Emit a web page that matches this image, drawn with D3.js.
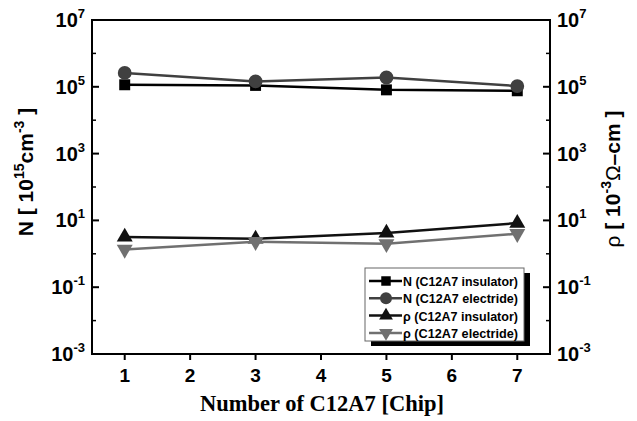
<!DOCTYPE html>
<html lang="en">
<head>
<meta charset="UTF-8">
<script src="https://d3js.org/d3.v7.min.js"></script>
<title>C12A7 chart</title>
<style>
  body { margin: 0; background: white; }
  text { font-family: "Liberation Sans", Arial, sans-serif; font-weight: bold; }
</style>
</head>
<body>
<div class="fig"></div>
<script>
    // data
    const chips = [1, 3, 5, 7];
    const nInsulator = [1.15e5, 1.1e5, 0.81e5, 0.76e5];
    const nElectride = [2.6e5, 1.45e5, 1.9e5, 1.05e5];
    const rhoInsulator = [3.2, 2.8, 4.2, 8.3];
    const rhoElectride = [1.35, 2.3, 2.0, 4.0];
    const xTicks = [1, 2, 3, 4, 5, 6, 7];
    const yExp = [-3, -1, 1, 3, 5, 7];
    const yMinor = [-2, 0, 2, 4, 6];

    const series = [
        { name: "N (C12A7 insulator)", values: nInsulator, color: "#000", symbol: d3.symbolSquare, size: 120, rot: 0 },
        { name: "N (C12A7 electride)", values: nElectride, color: "#404040", symbol: d3.symbolCircle, size: 150, rot: 0 },
        { name: "ρ (C12A7 insulator)", values: rhoInsulator, color: "#111", symbol: d3.symbolTriangle, size: 110, rot: 0 },
        { name: "ρ (C12A7 electride)", values: rhoElectride, color: "#707070", symbol: d3.symbolTriangle, size: 110, rot: 180 }
    ];

    const width = 637, height = 421;
    const m = { left: 92, right: 550, top: 20, bottom: 354 };

    const svg = d3.select(".fig").append("svg")
        .attr("width", width)
        .attr("height", height);

    const x = d3.scaleLinear().domain([0.5, 7.5]).range([m.left, m.right]);
    const y = d3.scaleLog().domain([1e-3, 1e7]).range([m.bottom, m.top]);

    // frame
    svg.append("rect")
        .attr("x", m.left).attr("y", m.top)
        .attr("width", m.right - m.left).attr("height", m.bottom - m.top)
        .attr("fill", "none").attr("stroke", "#000").attr("stroke-width", 2);

    // x ticks
    xTicks.forEach(t => {
        svg.append("line")
            .attr("x1", x(t)).attr("x2", x(t))
            .attr("y1", m.bottom).attr("y2", m.bottom + 6)
            .attr("stroke", "#000").attr("stroke-width", 2);
        svg.append("text")
            .attr("x", x(t)).attr("y", 382)
            .attr("text-anchor", "middle")
            .attr("font-size", 19)
            .text(t);
    });

    // y ticks both sides
    yExp.forEach(e => {
        const yy = y(Math.pow(10, e));
        [[m.left, m.left + 7], [m.right - 7, m.right]].forEach(p => {
            svg.append("line")
                .attr("x1", p[0]).attr("x2", p[1])
                .attr("y1", yy).attr("y2", yy)
                .attr("stroke", "#000").attr("stroke-width", 2);
        });
        const left = svg.append("text")
            .attr("x", 85).attr("y", yy + 7)
            .attr("text-anchor", "end")
            .attr("font-size", 20);
        left.append("tspan").text("10");
        left.append("tspan").attr("dy", -9).attr("font-size", 13).text(e);
        const right = svg.append("text")
            .attr("x", 557).attr("y", yy + 7)
            .attr("font-size", 20);
        right.append("tspan").text("10");
        right.append("tspan").attr("dy", -9).attr("font-size", 13).text(e);
    });
    yMinor.forEach(e => {
        const yy = y(Math.pow(10, e));
        [[m.left, m.left + 4], [m.right - 4, m.right]].forEach(p => {
            svg.append("line")
                .attr("x1", p[0]).attr("x2", p[1])
                .attr("y1", yy).attr("y2", yy)
                .attr("stroke", "#000").attr("stroke-width", 1.5);
        });
    });

    // lines and markers
    const line = d3.line()
        .x((d, i) => x(chips[i]))
        .y(d => y(d));

    series.forEach(s => {
        svg.append("path")
            .datum(s.values)
            .attr("d", line)
            .attr("fill", "none")
            .attr("stroke", s.color)
            .attr("stroke-width", 2.5);
        svg.selectAll(null)
            .data(s.values)
            .enter()
            .append("path")
            .attr("d", d3.symbol().type(s.symbol).size(s.size))
            .attr("transform", (d, i) => `translate(${x(chips[i])},${y(d)}) rotate(${s.rot})`)
            .attr("fill", s.color);
    });

    // legend
    const lg = { x: 365, y: 268, w: 159, h: 73 };
    svg.append("rect")
        .attr("x", lg.x + 6).attr("y", lg.y + 5)
        .attr("width", lg.w).attr("height", lg.h)
        .attr("fill", "#000");
    svg.append("rect")
        .attr("x", lg.x).attr("y", lg.y)
        .attr("width", lg.w).attr("height", lg.h)
        .attr("fill", "#fff").attr("stroke", "#666").attr("stroke-width", 1);
    series.forEach((s, i) => {
        const ly = 281 + i * 17.3;
        svg.append("line")
            .attr("x1", 369).attr("x2", 402)
            .attr("y1", ly).attr("y2", ly)
            .attr("stroke", s.color).attr("stroke-width", 2.5);
        svg.append("path")
            .attr("d", d3.symbol().type(s.symbol).size(s.size * 0.75))
            .attr("transform", `translate(386,${ly}) rotate(${s.rot})`)
            .attr("fill", s.color);
        svg.append("text")
            .attr("x", 403).attr("y", ly + 5)
            .attr("font-size", 13.5)
            .attr("textLength", 115)
            .attr("lengthAdjust", "spacingAndGlyphs")
            .text(s.name);
    });

    // axis titles
    const yl = svg.append("text")
        .attr("transform", "translate(33,172) rotate(-90)")
        .attr("text-anchor", "middle")
        .attr("font-size", 21);
    yl.append("tspan").text("N [ 10");
    yl.append("tspan").attr("dy", -9).attr("font-size", 14).text("15");
    yl.append("tspan").attr("dy", 9).text("cm");
    yl.append("tspan").attr("dy", -9).attr("font-size", 14).text("-3");
    yl.append("tspan").attr("dy", 9).text(" ]");

    const yr = svg.append("text")
        .attr("transform", "translate(620,179) rotate(-90)")
        .attr("text-anchor", "middle")
        .attr("font-size", 21);
    yr.append("tspan").attr("font-weight", "normal").text("ρ ");
    yr.append("tspan").text("[ 10");
    yr.append("tspan").attr("dy", -9).attr("font-size", 14).text("-3");
    yr.append("tspan").attr("dy", 9).attr("font-weight", "normal").text("Ω");
    yr.append("tspan").text("–cm ]");

    svg.append("text")
        .attr("x", 322).attr("y", 411)
        .attr("text-anchor", "middle")
        .attr("font-size", 22.5)
        .style("font-family", "'Liberation Serif', 'Times New Roman', serif")
        .text("Number of C12A7 [Chip]");
</script>
</body>
</html>
